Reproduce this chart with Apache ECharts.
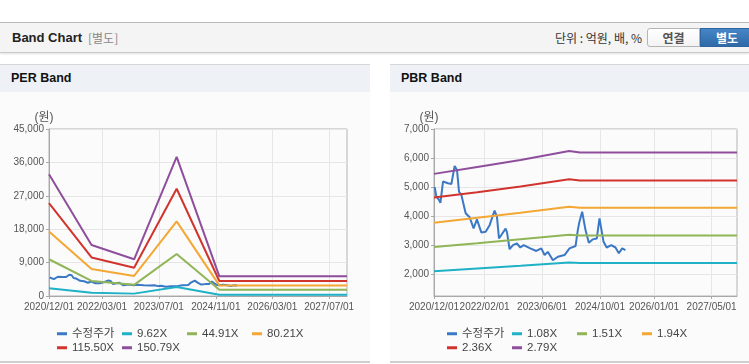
<!DOCTYPE html>
<html>
<head>
<meta charset="utf-8">
<script src="https://cdn.jsdelivr.net/npm/echarts@6/dist/echarts.min.js"></script>
<style>
  body { margin: 0; width: 749px; height: 364px; overflow: hidden; background: #fff; position: relative;
         font-family: "Liberation Sans", "Noto Sans CJK KR", sans-serif; }
  .topbar { position: absolute; left: 0; top: 22px; width: 749px; height: 29px; background: #f4f4f4;
            border-top: 1px solid #b9b9b9; border-bottom: 1px solid #c9c9c9; box-shadow: 0 1px 2px rgba(0,0,0,0.12); }
  .topbar .ttl { position: absolute; left: 12px; top: 0; line-height: 29px; font-size: 13px; font-weight: bold; color: #222; }
  .topbar .sub { position: absolute; left: 88px; top: 0; line-height: 29px; font-size: 12px; color: #888; font-family: "Noto Sans CJK KR", sans-serif; }
  .topbar .unit { position: absolute; right: 107px; top: 0; line-height: 29px; font-size: 12px; color: #333; font-family: "Noto Sans CJK KR", sans-serif; }
  .btn { position: absolute; top: 5px; height: 17px; line-height: 17px; text-align: center; font-size: 12px; font-weight: bold;
         font-family: "Noto Sans CJK KR", sans-serif; }
  .btn.off { left: 647px; width: 51px; background: linear-gradient(#fff, #f3f3f3); border: 1px solid #b5b5b5; border-radius: 3px 0 0 3px; color: #555; }
  .btn.on { left: 700px; width: 52px; background: linear-gradient(#4686c6, #2e69a8); border: 1px solid #2e64a0; color: #fff; }
  .panel { position: absolute; top: 64px; height: 296px; background: #fbfbfb; border-top: 1px solid #d6d6d6; border-bottom: 2px solid #cfcfcf; }
  .panel .hd { height: 27px; line-height: 27px; background: #eef2f7; padding-left: 11px; font-size: 12.5px; font-weight: bold; color: #111; }
  .chart { position: absolute; top: 92px; height: 270px; }
</style>
</head>
<body>
<div class="topbar">
  <span class="ttl">Band Chart</span>
  <span class="sub">[별도]</span>
  <span class="unit">단위 : 억원, 배, %</span>
  <div class="btn off">연결</div>
  <div class="btn on">별도</div>
</div>
<div class="panel" style="left:0;width:370px"><div class="hd">PER Band</div></div>
<div class="panel" style="left:390px;width:359px"><div class="hd">PBR Band</div></div>
<div class="chart" id="perChart" style="left:0;width:370px"></div>
<div class="chart" id="pbrChart" style="left:390px;width:359px"></div>
<script>
// adjusted close price (수정주가), shared by both charts
const priceDates = ['2020-12-07','2020-12-21','2021-01-12','2021-01-24','2021-02-15','2021-03-01','2021-03-29','2021-04-27',
  '2021-05-24','2021-06-13','2021-06-30','2021-07-20','2021-08-25','2021-09-28','2021-10-31','2021-11-28','2022-01-04',
  '2022-02-10','2022-03-15','2022-04-26','2022-05-16','2022-06-02','2022-06-22','2022-07-28','2022-08-08','2022-08-31',
  '2022-09-28','2022-10-31','2022-11-29','2022-12-27','2023-02-21','2023-04-13','2023-05-25','2023-06-22','2023-07-19',
  '2023-08-31','2023-10-12','2023-12-07','2024-01-18','2024-03-09','2024-03-28','2024-04-11','2024-05-04','2024-06-01',
  '2024-06-29','2024-08-02','2024-09-04','2024-09-27','2024-10-31','2024-11-27','2025-01-04','2025-02-09','2025-03-09',
  '2025-04-06','2025-05-04'];
const priceValues = [5000,4670,4560,4460,5190,5250,5130,5110,
  5730,5590,4840,4730,4100,3960,3580,3890,3440,
  3460,3690,4190,3980,3230,3350,3570,3460,2860,
  3000,3060,2920,3000,2890,2800,2890,2660,2770,
  2480,2600,2660,2890,2970,3520,3810,4150,3520,
  3080,3200,3230,3920,3120,2920,3000,2920,2720,
  2890,2830];

// PER band
const perDates = ['2020-12-01','2021-12-01','2022-12-01','2023-12-01','2024-12-01','2027-12-01'];
const perNames = ['9.62X','44.91X','80.21X','115.50X','150.79X'];
const per962 = [2100, 880, 640, 2420, 360, 360];
const per4491 = [9900, 4050, 3000, 11300, 1700, 1700];
const per8021 = [17400, 7300, 5400, 20100, 2860, 2860];
const per11550 = [25000, 10400, 7600, 28900, 4040, 4040];
const per15079 = [32800, 13750, 9900, 37500, 5300, 5300];
const perTicks = ['2020-12-01','2022-03-01','2023-07-01','2024-11-01','2026-03-01','2027-07-01'];

// PBR band
const pbrDates = ['2020-12-01','2021-12-01','2022-12-01','2024-01-15','2024-04-15','2027-12-01'];
const pbrNames = ['1.08X','1.51X','1.94X','2.36X','2.79X'];
const pbr108 = [2105, 2200, 2295, 2405, 2390, 2390];
const pbr151 = [2940, 3070, 3205, 3360, 3330, 3330];
const pbr194 = [3775, 3945, 4120, 4325, 4290, 4290];
const pbr236 = [4640, 4825, 5020, 5270, 5225, 5225];
const pbr279 = [5455, 5690, 5930, 6240, 6190, 6190];
const pbrTicks = ['2020-12-01','2022-02-01','2023-06-01','2024-10-01','2026-01-01','2027-05-01'];

const colors = ['#3b78c6', '#1fb1c6', '#8fb556', '#f4a733', '#d1342d', '#8f4e9b'];

function ts(s) {
  const p = s.split('-');
  return new Date(+p[0], +p[1] - 1, +p[2]).getTime();
}
function fmtDate(v) {
  const d = new Date(v);
  const m = d.getMonth() + 1, day = d.getDate();
  return d.getFullYear() + '/' + (m < 10 ? '0' : '') + m + '/' + (day < 10 ? '0' : '') + day;
}
function pairs(dates, vals) {
  return dates.map((d, i) => [ts(d), vals[i]]);
}

function makeChart(id, gridLeft, gridWidth, yOpt, ticks, bandDates, bandNames, bandVals) {
  const chart = echarts.init(document.getElementById(id), null, { renderer: 'canvas' });
  let series = [{
    name: '수정주가', type: 'line', data: pairs(priceDates, priceValues),
    showSymbol: false, lineStyle: { width: 2 }
  }];
  for (let i = 0; i < bandNames.length; i++) {
    series.push({
      name: bandNames[i], type: 'line', data: pairs(bandDates, bandVals[i]),
      showSymbol: false, lineStyle: { width: 2 }
    });
  }
  // one legend per item so they line up in fixed columns (4 per row)
  const names = ['수정주가'].concat(bandNames);
  const legends = names.map((n, i) => ({
    left: 52 + (i % 4) * 65, top: 231 + Math.floor(i / 4) * 14,
    itemWidth: 10, itemHeight: 3, icon: 'rect', itemGap: 0,
    textStyle: { fontSize: 11.5, color: '#444' },
    data: [n]
  }));
  // date axis is a value axis on timestamps so ticks can sit on the exact dates
  const tickVals = ticks.map(ts);
  chart.setOption({
    animation: false,
    color: colors,
    textStyle: { fontFamily: '"Liberation Sans", "Noto Sans CJK KR", sans-serif' },
    grid: { left: gridLeft, top: 37, width: gridWidth, height: 167, show: true, borderColor: '#b3b3b3', borderWidth: 1 },
    legend: legends,
    xAxis: {
      type: 'value', min: ts('2020-12-01'), max: ts('2027-12-01'),
      axisLine: { lineStyle: { color: '#a8a8a8' } },
      axisTick: { show: true, length: 3, customValues: tickVals, lineStyle: { color: '#a8a8a8' } },
      axisLabel: { customValues: tickVals, formatter: fmtDate, fontSize: 10, color: '#555', margin: 6 },
      splitLine: { show: true, lineStyle: { color: '#e6e6e6' } }
    },
    yAxis: Object.assign({
      type: 'value', name: '(원)', nameLocation: 'end', nameGap: 5,
      nameTextStyle: { fontSize: 12, color: '#555', padding: [0, 10, 0, 0] },
      axisLine: { show: true, lineStyle: { color: '#a8a8a8' } },
      splitLine: { show: true, lineStyle: { color: '#e6e6e6' } }
    }, yOpt),
    series: series
  });
  return chart;
}

const pbrYLabels = [2000, 3000, 4000, 5000, 6000, 7000];
const numFmt = v => Number(v).toLocaleString('en-US');

makeChart('perChart', 49, 298, {
  min: 0, max: 45000, interval: 9000,
  axisTick: { show: true, length: 3, lineStyle: { color: '#a8a8a8' } },
  axisLabel: { fontSize: 10, color: '#555', margin: 5, formatter: numFmt }
}, perTicks, perDates, perNames, [per962, per4491, per8021, per11550, per15079]);

makeChart('pbrChart', 44, 303, {
  min: 1250, max: 7000,
  axisTick: { show: true, length: 3, customValues: pbrYLabels, lineStyle: { color: '#a8a8a8' } },
  axisLabel: { fontSize: 10, color: '#555', margin: 5, customValues: pbrYLabels, formatter: numFmt }
}, pbrTicks, pbrDates, pbrNames, [pbr108, pbr151, pbr194, pbr236, pbr279]);
</script>
</body>
</html>
